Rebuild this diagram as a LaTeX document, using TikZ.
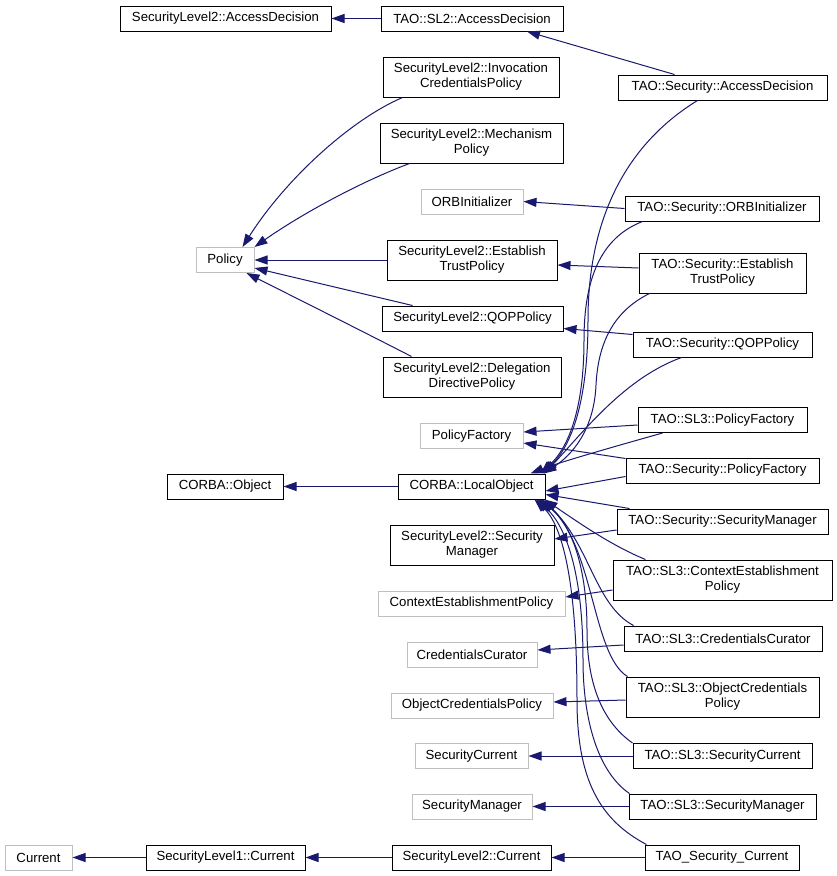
\documentclass[tikz,border=0pt]{standalone}
\usepackage{fontspec}
\setmainfont{Liberation Sans}
\usetikzlibrary{arrows.meta}
\definecolor{edgec}{HTML}{191970}
\definecolor{extc}{HTML}{BFBFBF}
\begin{document}
\begin{tikzpicture}[x=1pt,y=-1pt,
  cls/.style={draw=black, line width=1pt, fill=white, inner sep=0pt, align=center,
    font=\fontsize{13.2}{15}\selectfont, minimum height=25pt},
  twol/.style={minimum height=40pt},
  ext/.style={cls, draw=extc},
  inh/.style={draw=edgec, line width=1pt, -{Triangle[length=13pt,width=9pt]}}]
\useasboundingbox[fill=white] (0,0) rectangle (837,876);

% nodes
\node[cls, minimum width=211pt] (sl2ad) at (225.5,18.5) {SecurityLevel2::AccessDecision};
\node[cls, minimum width=182pt] (taosl2ad) at (472,18.5) {TAO::SL2::AccessDecision};
\node[cls, twol, minimum width=176pt] (sl2icp) at (471,77) {SecurityLevel2::Invocation\\CredentialsPolicy};
\node[cls, twol, minimum width=183pt] (sl2mp) at (471.5,143) {SecurityLevel2::Mechanism\\Policy};
\node[cls, minimum width=209pt] (taosecad) at (722.5,87.5) {TAO::Security::AccessDecision};
\node[ext, minimum width=58pt] (policy) at (225,260) {Policy};
\node[ext, minimum width=102pt] (orbinit) at (472,201.5) {ORBInitializer};
\node[cls, minimum width=194pt] (taosecorb) at (722,208.5) {TAO::Security::ORBInitializer};
\node[cls, twol, minimum width=170pt] (sl2etp) at (472,260) {SecurityLevel2::Establish\\TrustPolicy};
\node[cls, twol, minimum width=167pt] (taosecetp) at (722.5,273) {TAO::Security::Establish\\TrustPolicy};
\node[cls, minimum width=181pt] (sl2qop) at (472.5,318.5) {SecurityLevel2::QOPPolicy};
\node[cls, minimum width=179pt] (taosecqop) at (722.5,344.5) {TAO::Security::QOPPolicy};
\node[cls, twol, minimum width=178pt] (sl2ddp) at (472,377) {SecurityLevel2::Delegation\\DirectivePolicy};
\node[ext, minimum width=103pt] (pf) at (471.5,436) {PolicyFactory};
\node[cls, minimum width=169pt] (taosl3pf) at (722.5,420) {TAO::SL3::PolicyFactory};
\node[cls, minimum width=193pt] (taosecpf) at (722.5,470.5) {TAO::Security::PolicyFactory};
\node[cls, minimum width=116pt] (corbaobj) at (225,486.5) {CORBA::Object};
\node[cls, minimum width=147pt] (localobj) at (471.5,486.5) {CORBA::LocalObject};
\node[cls, minimum width=211pt] (taosecsm) at (722.5,521.5) {TAO::Security::SecurityManager};
\node[cls, twol, minimum width=164pt] (sl2sm) at (472,545) {SecurityLevel2::Security\\Manager};
\node[cls, twol, minimum width=219pt] (taosl3cep) at (722.5,580) {TAO::SL3::ContextEstablishment\\Policy};
\node[ext, minimum width=187pt] (cep) at (471.5,603.5) {ContextEstablishmentPolicy};
\node[cls, minimum width=198pt] (taosl3cc) at (723,638.5) {TAO::SL3::CredentialsCurator};
\node[ext, minimum width=130pt] (cc) at (472,654.5) {CredentialsCurator};
\node[cls, twol, minimum width=193pt] (taosl3ocp) at (722.5,697) {TAO::SL3::ObjectCredentials\\Policy};
\node[ext, minimum width=162pt] (ocp) at (472,705.5) {ObjectCredentialsPolicy};
\node[cls, minimum width=179pt] (taosl3sc) at (722.5,756) {TAO::SL3::SecurityCurrent};
\node[ext, minimum width=113pt] (sc) at (471.5,756) {SecurityCurrent};
\node[ext, minimum width=120pt] (sm) at (472,806.5) {SecurityManager};
\node[cls, minimum width=187pt] (taosl3sm) at (722.5,806.5) {TAO::SL3::SecurityManager};
\node[cls, minimum width=159pt] (sl2cur) at (471.5,857.5) {SecurityLevel2::Current};
\node[cls, minimum width=154pt] (taoseccur) at (722,857.5) {TAO\_Security\_Current};
\node[ext, minimum width=67pt] (current) at (38.5,857.5) {Current};
\node[cls, minimum width=159pt] (sl1cur) at (225.5,857.5) {SecurityLevel1::Current};

% straight inheritance edges
\draw[inh] (taosl2ad.west) -- (sl2ad.east);
\draw[inh] ([xshift=57pt]taosecad.north west) -- ([xshift=55pt]taosl2ad.south);
\draw[inh] ([xshift=20pt]sl2icp.south west) .. controls (350,120) and (285,180) .. ([xshift=-12pt]policy.north east);
\draw[inh] ([xshift=30pt]sl2mp.south west) .. controls (360,182) and (300,215) .. (policy.north east);
\draw[inh] (sl2etp.west) -- (policy.east);
\draw[inh] ([xshift=31pt]sl2qop.north west) -- ([yshift=-8pt]policy.east);
\draw[inh] ([xshift=29pt]sl2ddp.north west) .. controls (360,330) and (290,295) .. ([xshift=-8pt]policy.south east);
\draw[inh] (taosecorb.west) -- (orbinit.east);
\draw[inh] ([yshift=5pt]taosecetp.west) -- ([yshift=-5pt]sl2etp.east);
\draw[inh] ([yshift=10pt]taosecqop.west) -- ([yshift=-10pt]sl2qop.east);
\draw[inh] ([yshift=-5pt]taosl3pf.west) -- ([yshift=4pt]pf.east);
\draw[inh] ([yshift=12pt]taosecpf.west) -- ([yshift=-7pt]pf.east);
\draw[inh] (localobj.west) -- (corbaobj.east);
\draw[inh] ([yshift=-8.5pt]taosecsm.west) -- ([yshift=6pt]sl2sm.east);
\draw[inh] ([yshift=-10pt]taosl3cep.west) -- ([yshift=6.5pt]cep.east);
\draw[inh] ([yshift=-6.5pt]taosl3cc.west) -- ([yshift=4.5pt]cc.east);
\draw[inh] ([yshift=-3pt]taosl3ocp.west) -- ([yshift=3.5pt]ocp.east);
\draw[inh] (taosl3sc.west) -- (sc.east);
\draw[inh] (taosl3sm.west) -- (sm.east);
\draw[inh] (taoseccur.west) -- (sl2cur.east);
\draw[inh] (sl2cur.west) -- (sl1cur.east);
\draw[inh] (sl1cur.west) -- (current.east);

% edges to CORBA::LocalObject
\draw[inh] ([xshift=80pt]taosecad.south west) .. controls (625,145) and (588,220) .. (588,320)
  .. controls (588,400) and (572,445) .. ([xshift=-3pt]localobj.north east);
\draw[inh] ([xshift=18pt]taosecorb.south west) .. controls (600,238) and (584,280) .. (584,340)
  .. controls (584,410) and (568,448) .. ([xshift=-5pt]localobj.north east);
\draw[inh] ([xshift=11pt]taosecetp.south west) .. controls (612,312) and (598,345) .. (596,385)
  .. controls (594,430) and (572,455) .. ([xshift=-2pt]localobj.north east);
\draw[inh] ([xshift=49pt]taosecqop.south west) .. controls (625,378) and (585,430) .. ([xshift=-1pt]localobj.north east);
\draw[inh] ([xshift=25pt]taosl3pf.south west) .. controls (620,445) and (560,462) .. ([xshift=-15pt]localobj.north east);
\draw[inh] ([yshift=-6pt]taosecpf.west) -- ([yshift=-4.5pt]localobj.east);
\draw[inh] ([xshift=13pt]taosecsm.north west) -- ([yshift=-8pt]localobj.east);
\draw[inh] ([xshift=33pt]taosl3cep.north west) .. controls (610,545) and (575,520) .. ([xshift=-1pt]localobj.south east);
\draw[inh] ([xshift=10pt]taosl3cc.north west) .. controls (595,605) and (590,545) .. ([xshift=-3pt]localobj.south east);
\draw[inh] ([xshift=2pt]taosl3ocp.north west) .. controls (592,655) and (594,545) .. ([xshift=-5pt]localobj.south east);
\draw[inh] (taosl3sc.north west) .. controls (600,720) and (587,680) .. (587,630)
  .. controls (587,560) and (568,520) .. ([xshift=-7pt]localobj.south east);
\draw[inh] ([xshift=1pt]taosl3sm.north west) .. controls (598,772) and (583,720) .. (583,660)
  .. controls (583,570) and (565,525) .. ([xshift=-9pt]localobj.south east);
\draw[inh] ([xshift=2pt]taoseccur.north west) .. controls (600,820) and (577,780) .. (577,700)
  .. controls (577,580) and (562,525) .. ([xshift=-11pt]localobj.south east);
\end{tikzpicture}
\end{document}
